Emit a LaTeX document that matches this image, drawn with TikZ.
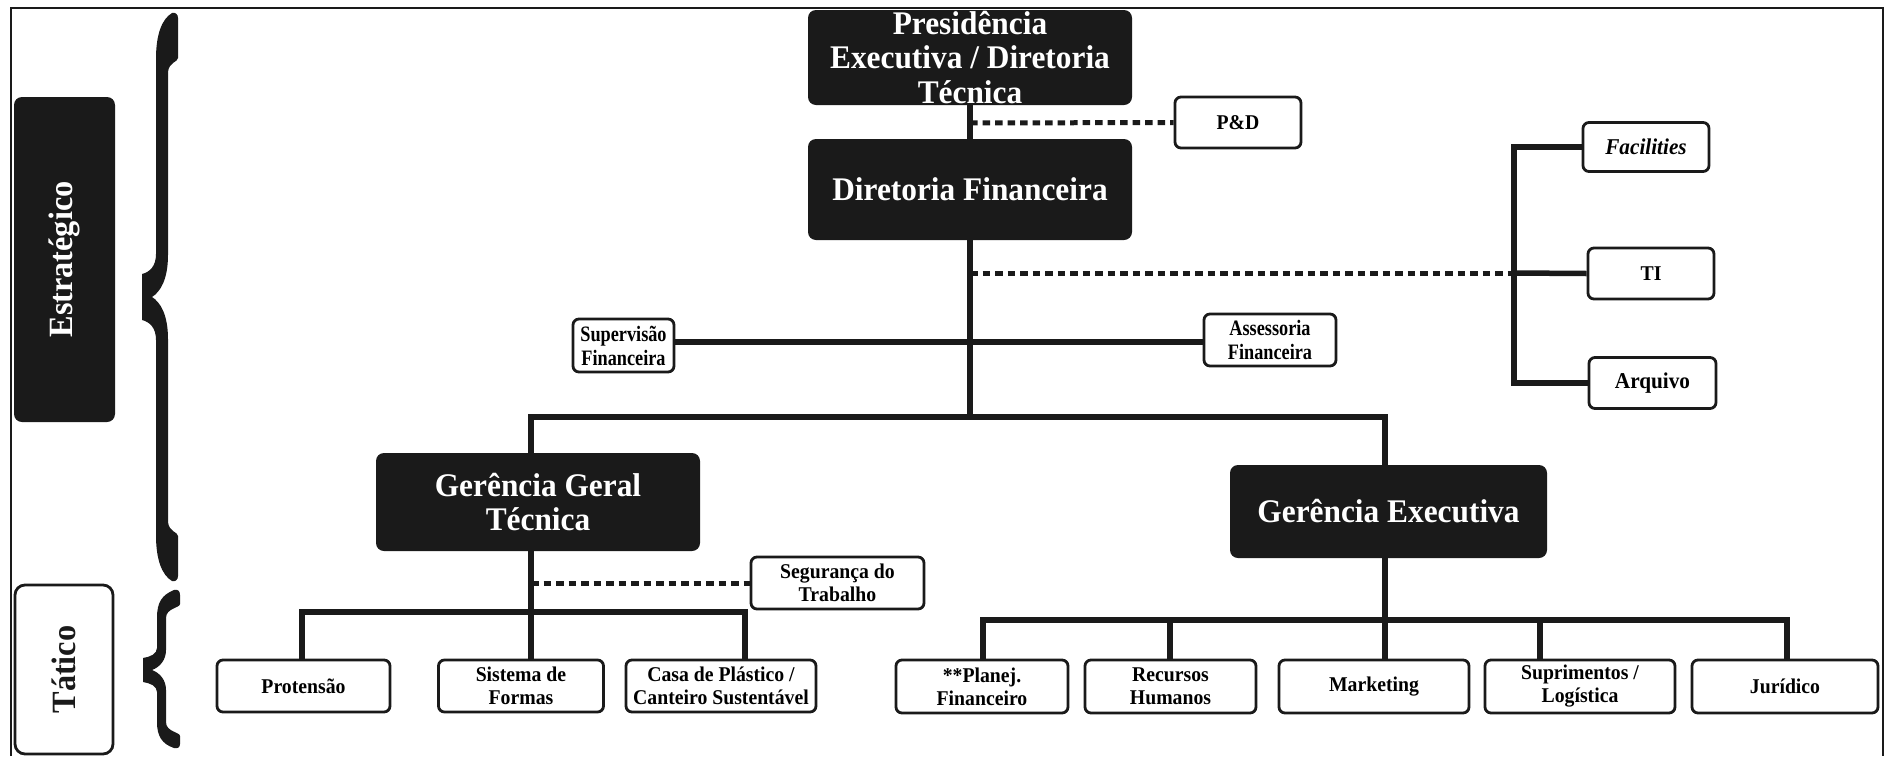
\documentclass[tikz,border=0pt]{standalone}
\usepackage{fontspec}
\setmainfont{Liberation Serif}
\newfontfamily\headfont[FakeStretch=0.95]{Liberation Serif}
\newfontfamily\unitfont[FakeStretch=0.94]{Liberation Serif}
\newfontfamily\narrowfont[FakeStretch=0.83]{Liberation Serif}
\usetikzlibrary{calc}
\definecolor{ink}{HTML}{1A1A1A}
\begin{document}
\begin{tikzpicture}[x=0.5pt,y=-0.5pt,
  headbox/.style={fill=ink, rounded corners=4pt, text=white, align=center, inner sep=0pt,
    font=\headfont\bfseries\fontsize{16.5pt}{17.25pt}\selectfont},
  unitbox/.style={draw=ink, fill=white, line width=1.4pt, rounded corners=3pt, align=center,
    inner sep=0pt, font=\unitfont\bfseries\fontsize{10.5pt}{11.5pt}\selectfont},
  largeunit/.style={font=\unitfont\bfseries\fontsize{11.3pt}{12pt}\selectfont},
  narrowunit/.style={font=\narrowfont\bfseries\fontsize{11pt}{12pt}\selectfont},
  levelfont/.style={font=\headfont\bfseries\fontsize{17pt}{18pt}\selectfont},
  conn/.style={draw=ink, line width=2.75pt, line join=miter},
  dotlink/.style={draw=ink, line width=2.5pt, dash pattern=on 3.75pt off 2.5pt}]

\useasboundingbox (0,0) rectangle (1887,756);
\fill[white] (0,0) rectangle (1887,756);

% outer frame
\draw[ink, line width=1.4pt] (11,756) -- (11,8) -- (1883,8) -- (1883,756);

% level labels
\node[headbox, levelfont, text=white, rotate=90, minimum width=162.5pt, minimum height=50.5pt] (estr) at (64.5,259.5) {Estratégico};
\node[draw=ink, fill=white, line width=1.4pt, rounded corners=5pt, levelfont, text=ink, rotate=90, minimum width=84.5pt, minimum height=49pt] (tat) at (64,669.5) {Tático};

% curly braces
\fill[ink] (172,13) .. controls (175,12) and (178,14) .. (178,18) -- (178,58)
  .. controls (178,62) and (169,62) .. (168,72) -- (168,255)
  .. controls (168,280) and (160,292) .. (152,297)
  .. controls (160,302) and (168,314) .. (168,339) -- (168,522)
  .. controls (169,532) and (178,532) .. (178,536) -- (178,576)
  .. controls (178,580) and (175,582) .. (172,581)
  .. controls (162,575) and (156,560) .. (156,535) -- (156,340)
  .. controls (156,328) and (150,322) .. (142,320) -- (142,274)
  .. controls (150,272) and (156,266) .. (156,254) -- (156,59)
  .. controls (156,34) and (162,19) .. (172,13) -- cycle;
\fill[ink] (174,590) .. controls (178,589) and (180,591) .. (180,595) -- (180,604)
  .. controls (180,608) and (166,608) .. (166,618) -- (166,650)
  .. controls (166,660) and (160,667) .. (152,670)
  .. controls (160,673) and (166,680) .. (166,690) -- (166,722)
  .. controls (166,732) and (180,732) .. (180,736) -- (180,744)
  .. controls (180,747) and (178,749) .. (174,748)
  .. controls (162,744) and (157,736) .. (157,722) -- (157,692)
  .. controls (157,686) and (150,683) .. (143,682) -- (143,658)
  .. controls (150,657) and (157,654) .. (157,648) -- (157,618)
  .. controls (157,602) and (162,595) .. (174,590) -- cycle;

% management boxes
\node[headbox, minimum width=162pt, minimum height=47.5pt] (pres) at (970,57.5) {Presidência\\Executiva / Diretoria\\Técnica};
\node[headbox, minimum width=162pt, minimum height=50.5pt] (dirfin) at (970,189.5) {Diretoria Financeira};
\node[headbox, minimum width=162pt, minimum height=49pt] (gg) at (538,502) {Gerência Geral\\Técnica};
\node[headbox, minimum width=158.5pt, minimum height=46.5pt] (ge) at (1388.5,511.5) {Gerência Executiva};

% staff and unit boxes
\node[unitbox, minimum width=63pt, minimum height=25.5pt] (pd) at (1238,122.5) {P\&D};
\node[unitbox, largeunit, minimum width=63pt, minimum height=24.5pt] (fac) at (1646,147) {\textit{Facilities}};
\node[unitbox, minimum width=63pt, minimum height=25.5pt] (ti) at (1651,273.5) {TI};
\node[unitbox, largeunit, minimum width=63.5pt, minimum height=25.5pt] (arq) at (1652.5,383) {Arquivo};
\node[unitbox, narrowunit, minimum width=50.5pt, minimum height=26.5pt] (sup) at (623.5,345.5) {Supervisão\\Financeira};
\node[unitbox, narrowunit, minimum width=66pt, minimum height=26pt] (ass) at (1270,340) {Assessoria\\Financeira};
\node[unitbox, minimum width=86.5pt, minimum height=26pt] (seg) at (837.5,583) {Segurança do\\Trabalho};

\node[unitbox, minimum width=86.5pt, minimum height=26pt] (prot) at (303.5,686) {Protensão};
\node[unitbox, minimum width=82.5pt, minimum height=26pt] (sist) at (521,686) {Sistema de\\Formas};
\node[unitbox, minimum width=95pt, minimum height=26pt] (casa) at (721,686) {Casa de Plástico /\\Canteiro Sustentável};
\node[unitbox, minimum width=86pt, minimum height=26.5pt] (plan) at (982,686.5) {**Planej.\\Financeiro};
\node[unitbox, minimum width=85.5pt, minimum height=26.5pt] (rec) at (1170.5,686.5) {Recursos\\Humanos};
\node[unitbox, minimum width=95pt, minimum height=26.5pt] (mkt) at (1374,686.5) {Marketing};
\node[unitbox, minimum width=95pt, minimum height=26.5pt] (supl) at (1580,686.5) {Suprimentos /\\Logística};
\node[unitbox, minimum width=93pt, minimum height=26.5pt] (jur) at (1785,686.5) {Jurídico};

% junction points
\coordinate (jpd) at (970,123);
\coordinate (jti) at (970,273);
\coordinate (rb) at (1514,273);
\coordinate (jsa) at (970,342);
\coordinate (jbar) at (970,417);
\coordinate (jgg) at (531,417);
\coordinate (jge) at (1385,417);
\coordinate (jgs) at (531,583);
\coordinate (jlb) at (531,612);
\coordinate (lbl) at (302,612);
\coordinate (lbr) at (745,612);
\coordinate (jrb) at (1385,620);
\coordinate (rbl) at (983,620);
\coordinate (rbrec) at (1170,620);
\coordinate (rbsup) at (1540,620);
\coordinate (rbr) at (1787,620);

% connectors
\draw[conn] (pres.south) -- (dirfin.north);
\draw[dotlink] (jpd) -- (pd.west);
\draw[conn] (dirfin.south) -- (jbar);
\draw[dotlink] (jti) -- (rb);
\draw[conn] (fac.west) -| (rb) |- (arq.west);
\draw[conn] (rb) -- (ti.west);
\draw[conn] (jsa -| sup.east) -- (jsa -| ass.west);
\draw[conn] (gg.north -| jgg) -- (jgg) -- (jge) -- (ge.north -| jge);

\draw[conn] (gg.south -| jlb) -- (jlb);
\draw[dotlink] (jgs) -- (seg.west);
\draw[conn] (prot.north -| lbl) -- (lbl) -- (lbr) -- (casa.north -| lbr);
\draw[conn] (jlb) -- (sist.north -| jlb);

\draw[conn] (ge.south -| jrb) -- (jrb);
\draw[conn] (plan.north -| rbl) -- (rbl) -- (rbr) -- (jur.north -| rbr);
\draw[conn] (rbrec) -- (rec.north -| rbrec);
\draw[conn] (jrb) -- (mkt.north -| jrb);
\draw[conn] (rbsup) -- (supl.north -| rbsup);
\end{tikzpicture}
\end{document}
